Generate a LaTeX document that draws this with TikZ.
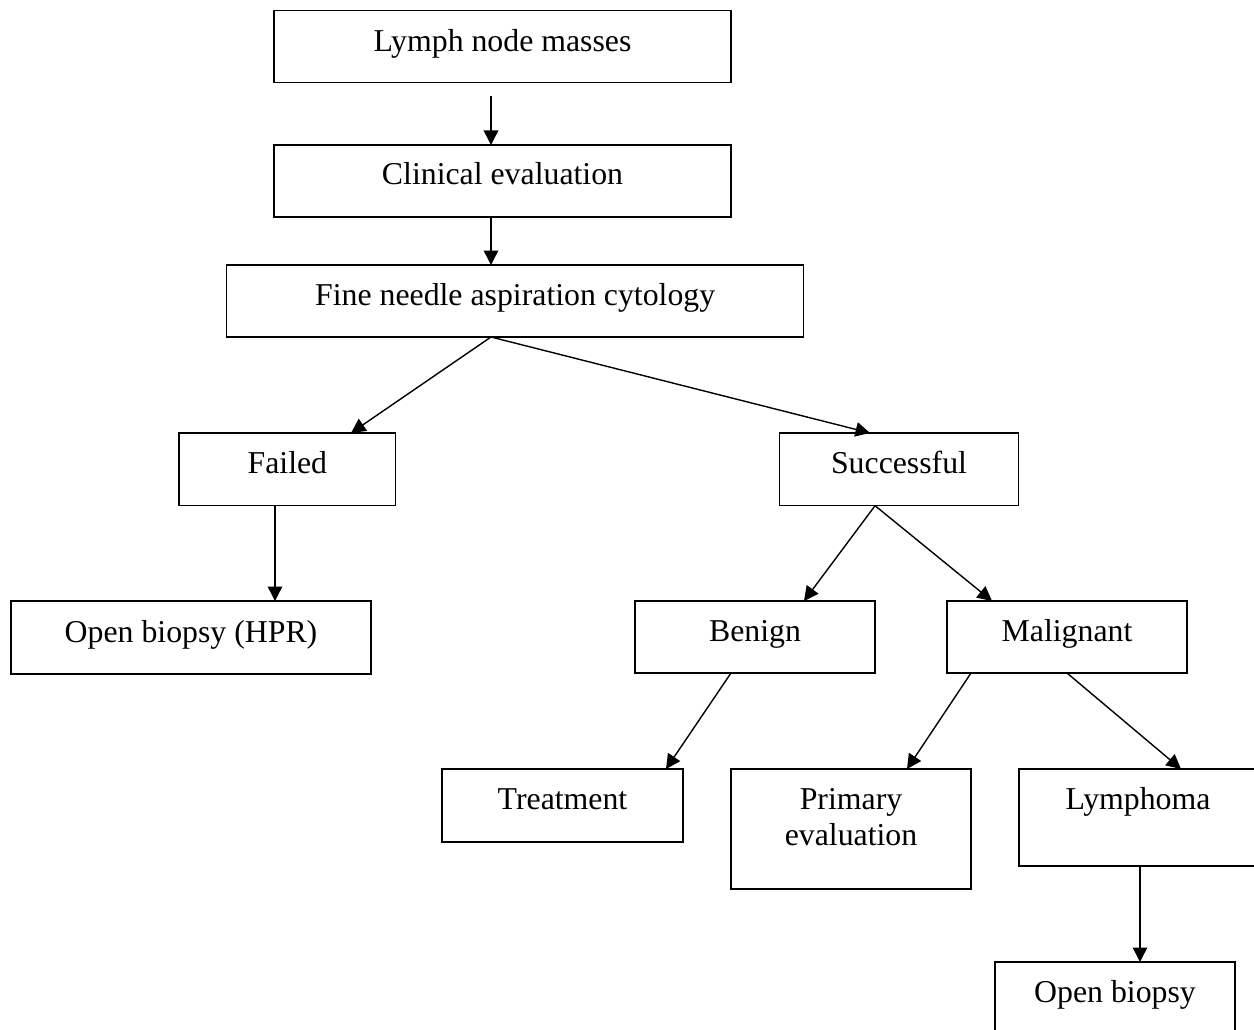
\documentclass[tikz,border=0pt]{standalone}
\usepackage{fontspec}
\setmainfont{Liberation Serif}
\usetikzlibrary{arrows.meta}
\begin{document}
\begin{tikzpicture}[x=1pt,y=-1pt,
  box/.style={draw, line width=1.3pt, rectangle, inner sep=0pt, outer sep=0pt},
  lbl/.style={anchor=base, inner sep=0pt, font=\fontsize{31.8}{36.7}\selectfont},
  arr/.style={line width=1.4pt, -{Triangle[length=14.5pt,width=14.5pt]}}]
\fill[white] (0,0) rectangle (1254,1030);
\useasboundingbox (0,0) rectangle (1254,1030);

% boxes
\node[box, minimum width=457pt, minimum height=72pt] (lymph) at (502.5,46.7) {};
\node[box, minimum width=457pt, minimum height=72pt] (clin) at (502.5,181) {};
\node[box, minimum width=577.3pt, minimum height=72pt] (fnac) at (515.15,301) {};
\node[box, minimum width=216.7pt, minimum height=72.7pt] (failed) at (287.35,469.35) {};
\node[box, minimum width=239.1pt, minimum height=72.7pt] (succ) at (899.05,469.35) {};
\node[box, minimum width=360pt, minimum height=73pt] (hpr) at (191,637.5) {};
\node[box, minimum width=240pt, minimum height=72pt] (benign) at (755,637) {};
\node[box, minimum width=240pt, minimum height=72pt] (malig) at (1067,637) {};
\node[box, minimum width=241pt, minimum height=73pt] (treat) at (562.5,805.5) {};
\node[box, minimum width=240pt, minimum height=120pt] (prim) at (851,829) {};
\node[box, minimum width=239pt, minimum height=97pt] (lymphoma) at (1138.5,817.5) {};
\node[box, minimum width=240pt, minimum height=78pt] (open) at (1115,1001) {};

% texts
\node[lbl] (lymphT) at ([yshift=-41pt]lymph.north) {Lymph node masses};
\node[lbl] (clinT) at ([yshift=-40pt]clin.north) {Clinical evaluation};
\node[lbl] (fnacT) at ([yshift=-40pt]fnac.north) {Fine needle aspiration cytology};
\node[lbl] (failedT) at ([yshift=-40pt]failed.north) {Failed};
\node[lbl] (succT) at ([yshift=-40pt]succ.north) {Successful};
\node[lbl] (hprT) at ([yshift=-41pt]hpr.north) {Open biopsy (HPR)};
\node[lbl] (benignT) at ([yshift=-40.5pt]benign.north) {Benign};
\node[lbl] (maligT) at ([yshift=-40.5pt]malig.north) {Malignant};
\node[lbl] (treatT) at ([yshift=-40pt]treat.north) {Treatment};
\node[lbl] (primT1) at ([yshift=-40pt]prim.north) {Primary};
\node[lbl] (primT2) at ([yshift=-76.7pt]prim.north) {evaluation};
\node[lbl] (lymphomaT) at ([xshift=-0.5pt,yshift=-40pt]lymphoma.north) {Lymphoma};
\node[lbl] (openT) at ([yshift=-40pt]open.north) {Open biopsy};

% connectors
\draw[arr] ([xshift=-11.5pt,yshift=-13.5pt]lymph.south) -- ([xshift=-11.5pt]clin.north);
\draw[arr] ([xshift=-11.5pt]clin.south) -- ([xshift=-24.15pt]fnac.north);
\draw[arr] ([xshift=-24.15pt]fnac.south) -- ([xshift=63.65pt]failed.north);
\draw[arr] ([xshift=-24.15pt]fnac.south) -- ([xshift=-29pt]succ.north);
\draw[arr] ([xshift=-12.35pt]failed.south) -- ([xshift=84pt]hpr.north);
\draw[arr] ([xshift=-24pt]succ.south) -- ([xshift=49pt]benign.north);
\draw[arr] ([xshift=-24pt]succ.south) -- ([xshift=-75pt]malig.north);
\draw[arr] ([xshift=-24pt]benign.south) -- ([xshift=103.5pt]treat.north);
\draw[arr] ([xshift=-96pt]malig.south) -- ([xshift=56pt]prim.north);
\draw[arr] (malig.south) -- ([xshift=42.5pt]lymphoma.north);
\draw[arr] ([xshift=1.5pt]lymphoma.south) -- ([xshift=25pt]open.north);
\end{tikzpicture}
\end{document}
